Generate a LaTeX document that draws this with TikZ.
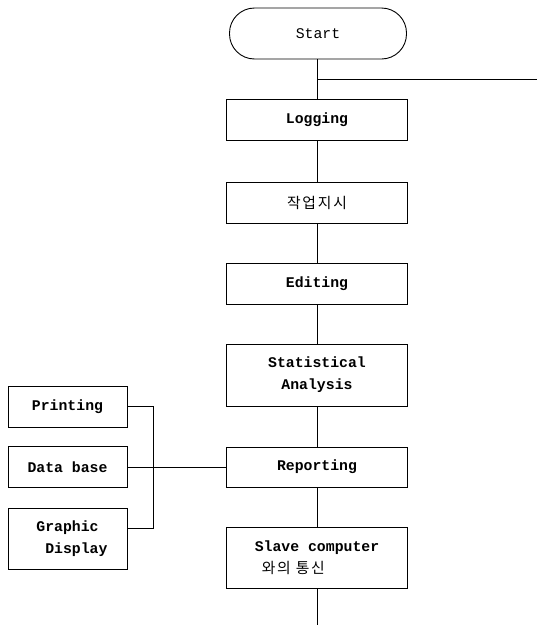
\documentclass[tikz,border=0pt]{standalone}
\usepackage{fontspec}
\setmonofont{Liberation Mono}
\newfontfamily\krfont{Noto Sans CJK KR}[LetterSpace=12]
\usepackage{tikz}

\begin{document}
\begin{tikzpicture}[x=1pt,y=1pt,line width=0.9pt,
    box/.style={draw,rectangle,minimum width=181pt,minimum height=41pt,inner sep=0,
      font=\fontsize{14.8}{22}\selectfont\ttfamily\bfseries,align=center},
    sidebox/.style={box,minimum width=119pt},
    term/.style={box,rounded corners=25pt,minimum width=177pt,minimum height=51pt,font=\fontsize{14.8}{22}\selectfont\ttfamily}]
      \useasboundingbox (0,0) rectangle (537,-627);
      \node[term] (start) at (318,-33.5) {Start};
      \node[box] (log) at (317,-120) {Logging};
      \node[box] (order) at (317,-202.5) {\krfont\mdseries 작업지시};
      \node[box] (edit) at (317,-283.5) {Editing};
      \node[box,minimum height=62pt] (stat) at (317,-375) {Statistical\\Analysis};
      \node[box,minimum height=40pt] (rep) at (317,-467) {Reporting};
      \node[box,minimum height=61pt] (slave) at (317,-557.5) {Slave computer\\{\krfont\mdseries 와의 통신}\hspace*{3.2em}};
      \node[sidebox] (print) at (67.5,-406.5) {Printing};
      \node[sidebox] (db) at (67.5,-467) {Data base};
      \node[sidebox,minimum height=61pt] (graph) at (67.5,-538.5) {Graphic\\\hspace*{1.2em}Display};
      \coordinate (branch) at (317,-79);
      \coordinate (branchend) at (537,-79);
      \coordinate (bustop) at (153,-406.5);
      \coordinate (busbot) at (153,-528);
      \coordinate (out) at (317,-625);
      \draw (start.south -| log) -- (log) -- (order) -- (edit) -- (stat) -- (rep) -- (slave) -- (out);
      \draw (branch) -- (branchend);
      \draw (print.east) -- (bustop) -- (busbot) -- (graph.east |- busbot);
      \draw (db.east) -- (rep.west);
    \end{tikzpicture}
\end{document}
